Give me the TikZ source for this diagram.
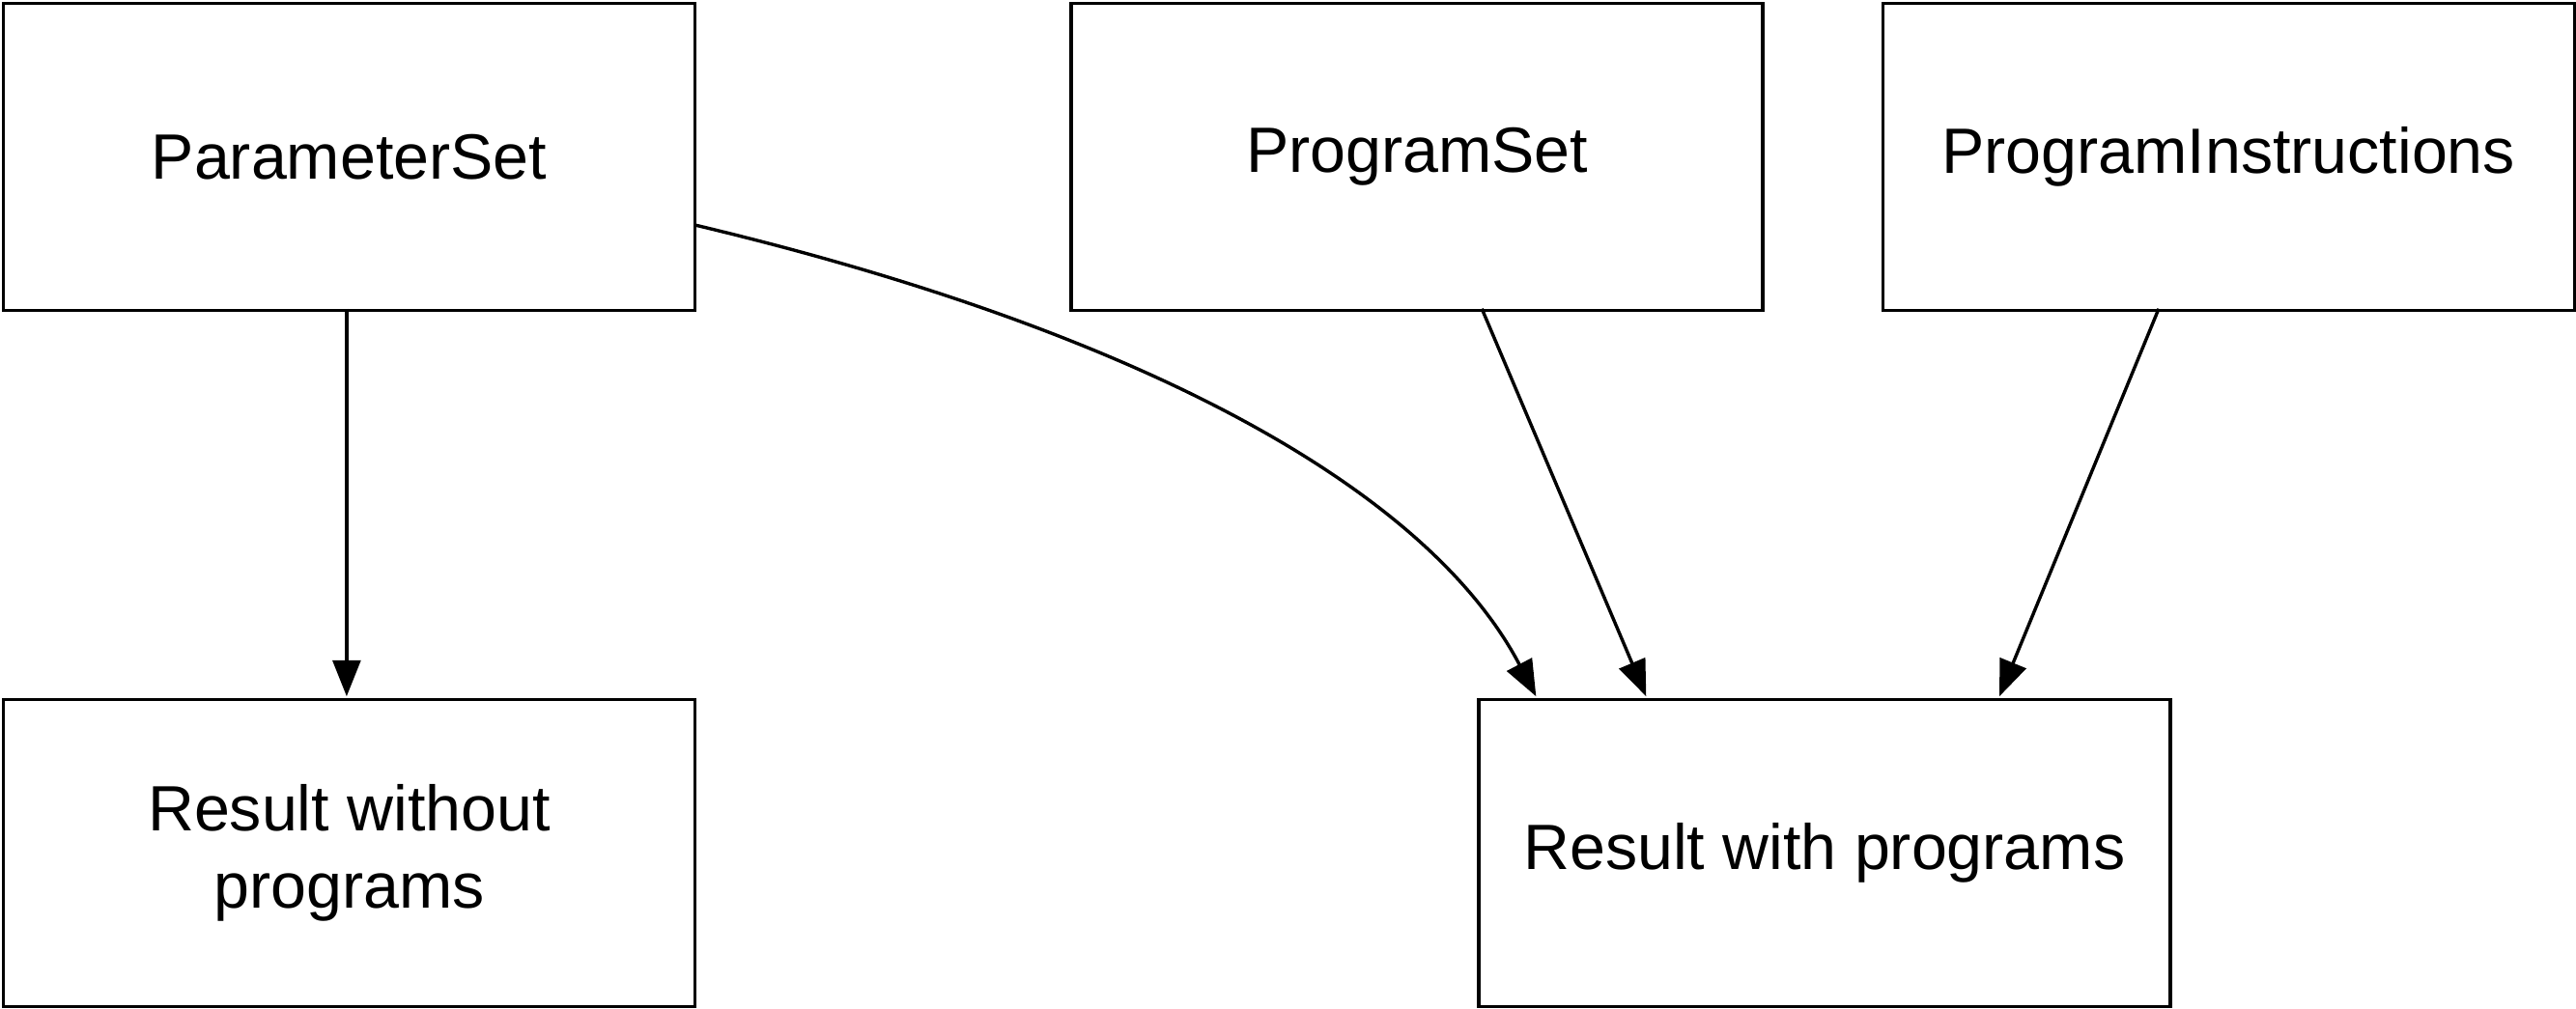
\documentclass[tikz,border=0pt]{standalone}
\usepackage{fontspec}
\setmainfont{Liberation Sans}
\usetikzlibrary{arrows.meta}
\begin{document}
\begin{tikzpicture}[x=1pt,y=-1pt,
  box/.style={draw,line width=2pt,minimum width=421pt,minimum height=187pt,anchor=north west,inner sep=0pt,align=center,font=\fontsize{39}{47}\selectfont},
  arr/.style={line width=2pt,-{Triangle[length=22pt,width=17pt]}}]
\useasboundingbox (0,0) rectangle (1568,614);
\node[box] (ps) at (1,1) {ParameterSet};
\node[box] (prs) at (651,1) {ProgramSet};
\node[box] (pi) at (1145,1) {ProgramInstructions};
\node[box] (rwo) at (1,425) {Result without\\programs};
\node[box] (rw) at (899,425) {Result with programs};
\coordinate (a1) at (211,188);
\coordinate (a2) at (211,424);
\draw[arr] (a1) -- (a2);
\coordinate (c1) at (423,137);
\coordinate (c2) at (935,424);
\draw[arr] (c1) .. controls (700,203) and (870,300) .. (c2);
\coordinate (b1) at (902,188);
\coordinate (b2) at (1002,424);
\draw[arr] (b1) -- (b2);
\coordinate (d1) at (1314,188);
\coordinate (d2) at (1217,424);
\draw[arr] (d1) -- (d2);
\end{tikzpicture}
\end{document}
